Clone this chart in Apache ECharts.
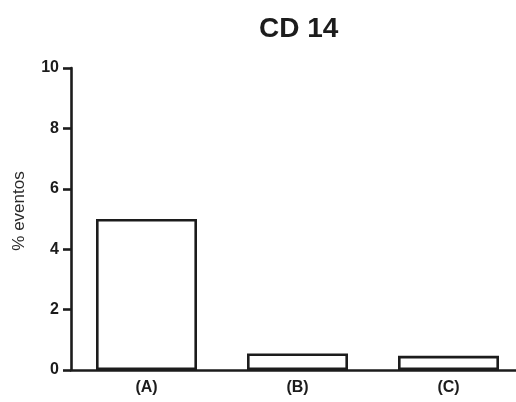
<!DOCTYPE html>
<html>
<head>
<meta charset="utf-8">
<script src="https://cdn.jsdelivr.net/npm/echarts@6/dist/echarts.min.js"></script>
<style>
html,body{margin:0;padding:0;background:#fff;overflow:hidden;width:516px;height:402px;}
#c{width:530px;height:402px;}
</style>
</head>
<body>
<div id="c"></div>
<script>
const categories = ['(A)', '(B)', '(C)'];
const values = [5.0, 0.55, 0.47];
const yTicks = [0, 2, 4, 6, 8, 10];

const ink = '#1c1c1c';
const font = 'Liberation Sans, Arial, sans-serif';
const chart = echarts.init(document.getElementById('c'), null, {renderer: 'canvas'});
chart.setOption({
  backgroundColor: '#ffffff',
  animation: false,
  title: {
    text: 'CD 14',
    left: 254,
    top: 10,
    textStyle: {fontFamily: font, fontSize: 28, fontWeight: 'bold', color: ink}
  },
  grid: {left: 71, top: 68, height: 302, width: 453, containLabel: false, outerBoundsMode: 'none'},
  xAxis: {
    type: 'category',
    data: categories,
    axisLine: {lineStyle: {color: ink, width: 2.6}},
    axisTick: {show: false},
    axisLabel: {margin: 10, fontFamily: font, fontSize: 16, fontWeight: 'bold', color: ink}
  },
  yAxis: {
    type: 'value',
    min: yTicks[0],
    max: yTicks[yTicks.length - 1],
    interval: 2,
    name: '% eventos',
    nameLocation: 'middle',
    nameGap: 43,
    nameTextStyle: {fontFamily: font, fontSize: 17, color: '#2a2a2a', padding: [0, 0, 0, 16]},
    axisLine: {show: true, lineStyle: {color: ink, width: 2.6}},
    axisTick: {show: true, length: 8, lineStyle: {color: ink, width: 2.6}},
    axisLabel: {margin: 12, fontFamily: font, fontSize: 16, fontWeight: 'bold', color: ink},
    splitLine: {show: false}
  },
  series: [{
    type: 'bar',
    data: values,
    barWidth: 101,
    itemStyle: {color: '#ffffff', borderColor: ink, borderWidth: 2.6}
  }]
});
</script>
</body>
</html>
